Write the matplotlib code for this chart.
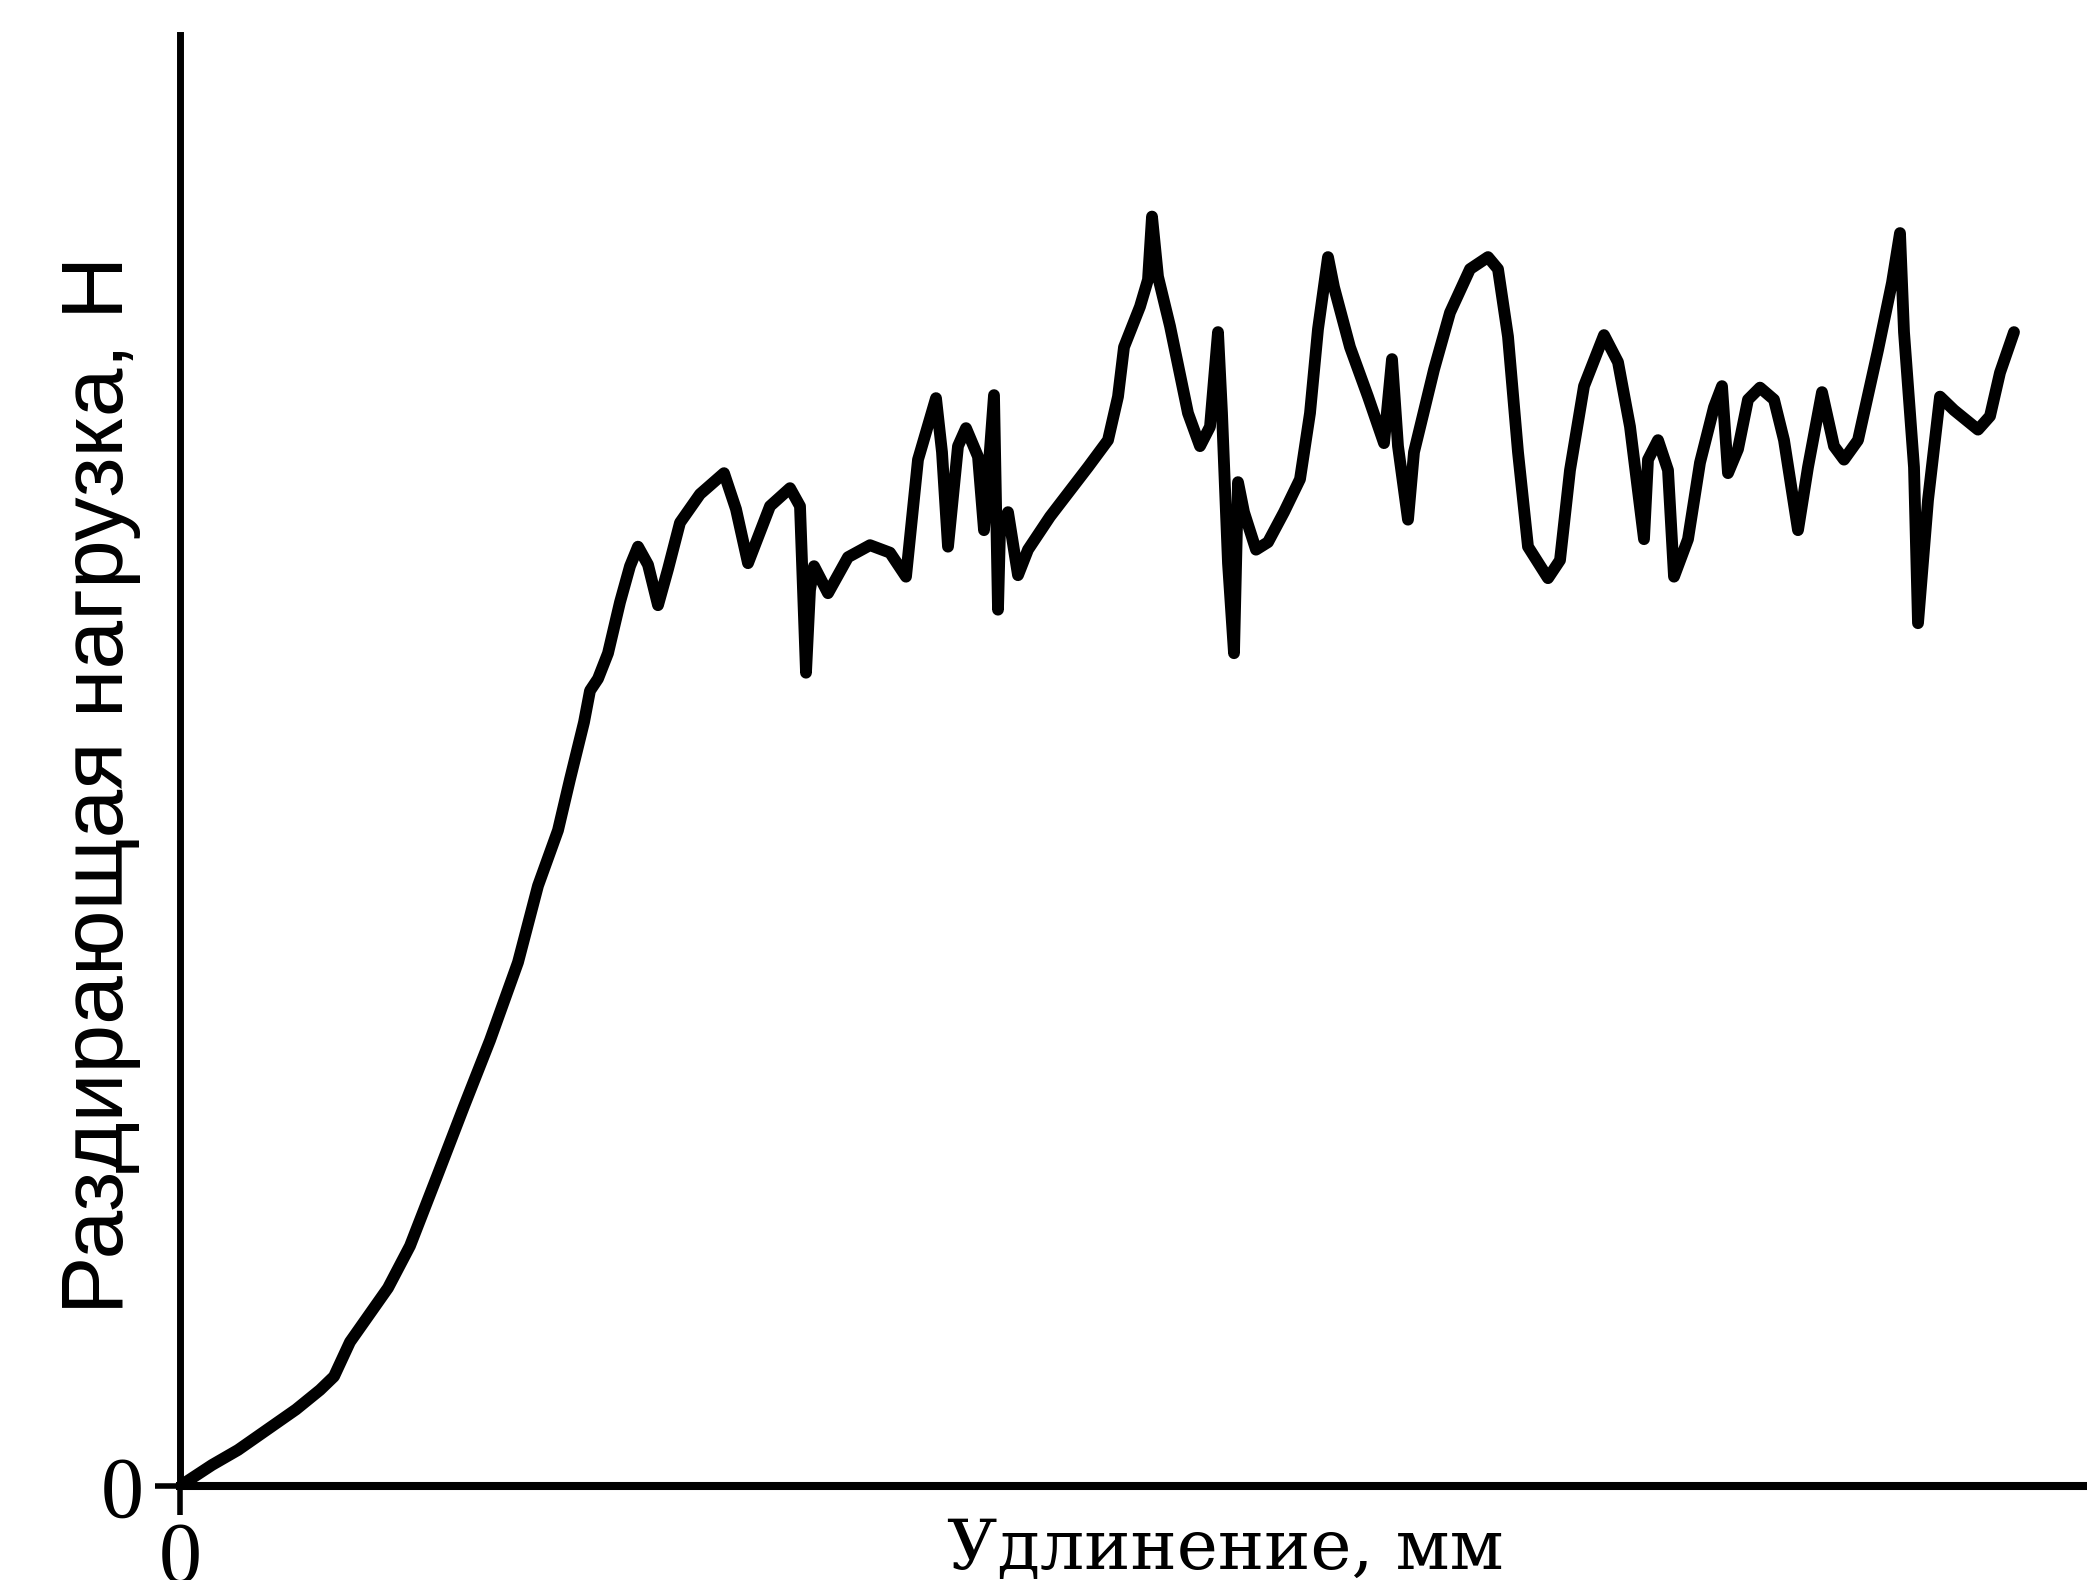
import matplotlib
matplotlib.use("Agg")
import matplotlib.pyplot as plt

# elongation (arbitrary mm units) and tearing load (arbitrary N units)
elong = [0.0, 1.6, 2.9, 4.3, 5.8, 7.0, 7.7, 8.5, 10.4, 11.5, 12.9,
         14.2, 15.5, 16.9, 17.9, 18.9, 19.5, 20.2, 20.5, 20.9, 21.4,
         22.0, 22.5, 22.9, 23.4, 23.9, 24.4, 25.0, 26.0, 27.2, 27.8,
         28.4, 29.5, 30.5, 31.0, 31.3, 31.5, 31.7, 32.4, 33.4, 34.5,
         35.5, 36.3, 36.9, 37.8, 38.1, 38.4, 38.9, 39.3, 39.9, 40.2,
         40.7, 40.9, 41.0, 41.4, 41.9, 42.4, 43.5, 45.4, 46.4, 46.9,
         47.2, 48.0, 48.4, 48.6, 48.9, 49.5, 50.4, 51.0, 51.5, 51.9,
         52.1, 52.4, 52.7, 52.9, 53.2, 53.8, 54.4, 55.2, 56.0, 56.5,
         56.9, 57.4, 57.7, 58.5, 59.4, 60.2, 60.6, 60.9, 61.4, 61.7,
         62.7, 63.5, 64.5, 65.4, 65.9, 66.4, 66.9, 67.4, 68.4, 69.0,
         69.5, 70.2, 71.2, 71.9, 72.5, 73.2, 73.4, 73.9, 74.4, 74.7,
         75.4, 76.0, 76.7, 77.1, 77.4, 77.9, 78.4, 79.0, 79.7, 80.2,
         80.9, 81.4, 82.1, 82.7, 83.2, 83.9, 84.9, 85.6, 86.0, 86.2,
         86.7, 86.9, 87.4, 88.0, 88.7, 89.9, 90.5, 91.0, 91.7]

load = [0.0, 1.4, 2.4, 3.7, 5.1, 6.4, 7.3, 9.6, 13.2, 16.0, 20.8,
        25.3, 29.7, 34.9, 40.0, 43.7, 47.1, 50.9, 53.0, 53.8, 55.5,
        58.9, 61.3, 62.6, 61.4, 58.7, 61.1, 64.2, 66.1, 67.5, 65.1,
        61.5, 65.3, 66.5, 65.3, 54.2, 59.7, 61.3, 59.5, 61.9, 62.7,
        62.2, 60.6, 68.4, 72.5, 68.9, 62.6, 69.3, 70.5, 68.6, 63.7,
        72.7, 58.4, 63.7, 64.9, 60.7, 62.4, 64.6, 67.9, 69.7, 72.6,
        75.9, 78.6, 80.4, 84.6, 80.6, 77.3, 71.5, 69.3, 70.6, 76.9,
        71.5, 61.5, 55.5, 66.9, 64.9, 62.4, 62.9, 64.9, 67.1, 71.5,
        77.1, 81.9, 79.9, 75.9, 72.6, 69.5, 75.1, 69.3, 64.4, 68.9,
        74.4, 78.2, 81.1, 81.9, 81.1, 76.6, 68.9, 62.6, 60.5, 61.7,
        67.7, 73.3, 76.7, 74.9, 70.6, 63.1, 68.4, 69.7, 67.7, 60.6,
        63.1, 68.2, 71.9, 73.3, 67.5, 69.1, 72.4, 73.2, 72.4, 69.7,
        63.7, 67.9, 72.9, 69.3, 68.4, 69.7, 75.7, 80.2, 83.5, 76.9,
        67.9, 57.5, 65.7, 72.6, 71.7, 70.4, 71.3, 74.2, 76.9]

x_ticks = [0]
y_ticks = [0]
x_label = "Удлинение, мм"
y_label = "Раздирающая нагрузка, Н"

serif = ["Liberation Serif", "DejaVu Serif"]

fig = plt.figure(figsize=(20.87, 15.80), dpi=100)
ax = fig.add_axes([180 / 2087, 94 / 1580, 1907 / 2087, 1451 / 1580])

ax.plot(elong, load, color="black", linewidth=8.5, solid_joinstyle="round", solid_capstyle="round")

ax.set_xlim(0, 95.35)
ax.set_ylim(0, 96.7)

for s in ["top", "right"]:
    ax.spines[s].set_visible(False)
ax.spines["left"].set_linewidth(5.0)
ax.spines["bottom"].set_linewidth(5.8)

ax.set_xticks(x_ticks)
ax.set_yticks(y_ticks)
ax.set_xticklabels([str(v) for v in x_ticks], fontfamily=serif, fontsize=62)
ax.set_yticklabels([str(v) for v in y_ticks], fontfamily=serif, fontsize=62)
ax.tick_params(axis="x", length=21, width=4, pad=4)
ax.tick_params(axis="y", length=18, width=4, pad=8)

# x label: wide heavy serif, y label: plain sans
fig.text(1225 / 2087, 1 - 1550 / 1580, x_label, ha="center", va="center",
         fontfamily=["DejaVu Serif"], fontsize=50)
fig.text(101 / 2087, 1 - 785 / 1580, y_label, ha="center", va="center",
         rotation=90, fontfamily=["Liberation Sans", "DejaVu Sans"], fontsize=63)

fig.savefig("out.png", dpi=100)
